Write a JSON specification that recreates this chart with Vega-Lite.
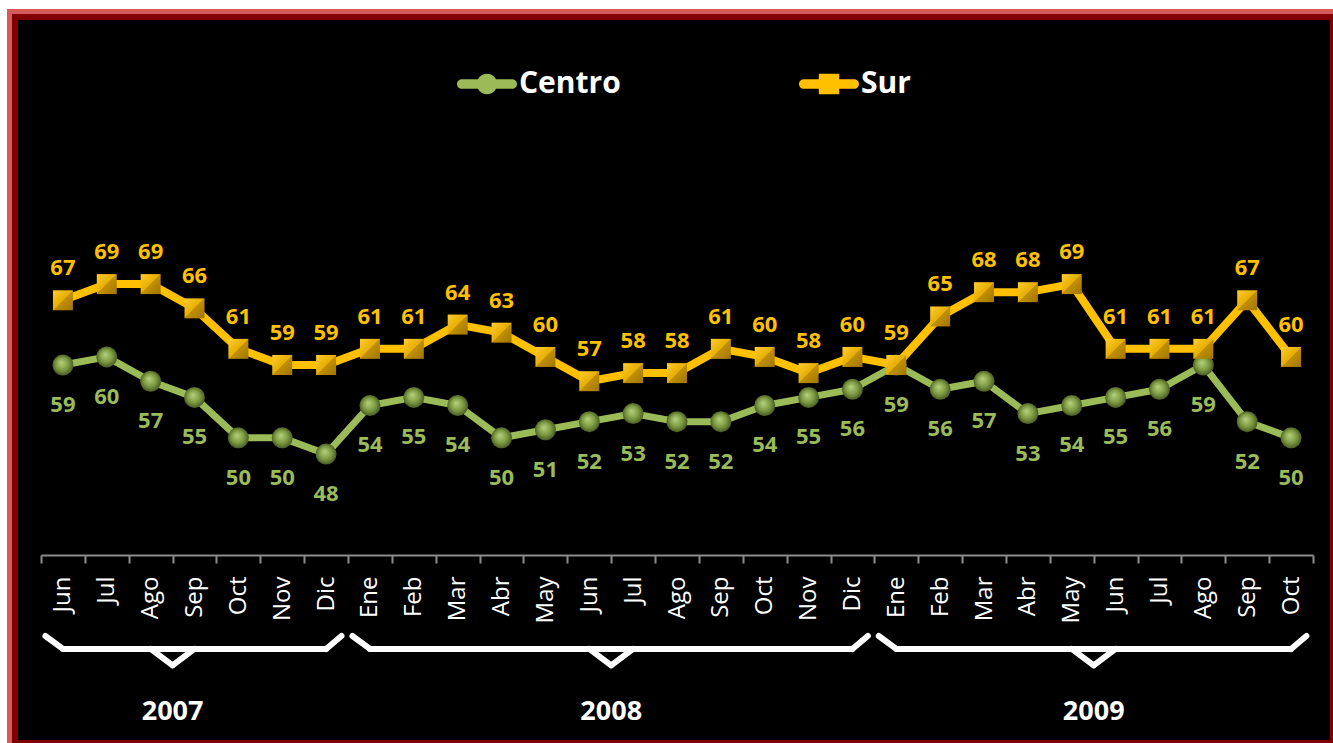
{
  "$schema": "https://vega.github.io/schema/vega-lite/v6.json",
  "width": 1318,
  "height": 726,
  "autosize": {"type": "none"},
  "padding": {"left": 15, "top": 17, "right": 0, "bottom": 0},
  "background": "white",
  "config": {
    "view": {"stroke": "#D55A5A", "strokeWidth": 16, "fill": null},
    "font": "Open Sans",
    "legend": {
      "labelColor": "white",
      "labelFont": "Open Sans",
      "labelFontWeight": "bold",
      "labelFontSize": 30,
      "labelOffset": 2,
      "symbolSize": 3600,
      "symbolStrokeWidth": 0,
      "symbolOpacity": 1,
      "direction": "horizontal",
      "columnPadding": 178,
      "labelLimit": 300
    }
  },
  "datasets": {
    "frame": [{"frame": "panel"}],
    "months": [
      {"key": "2007-Jun", "centro": 59, "sur": 67},
      {"key": "2007-Jul", "centro": 60, "sur": 69},
      {"key": "2007-Ago", "centro": 57, "sur": 69},
      {"key": "2007-Sep", "centro": 55, "sur": 66},
      {"key": "2007-Oct", "centro": 50, "sur": 61},
      {"key": "2007-Nov", "centro": 50, "sur": 59},
      {"key": "2007-Dic", "centro": 48, "sur": 59},
      {"key": "2008-Ene", "centro": 54, "sur": 61},
      {"key": "2008-Feb", "centro": 55, "sur": 61},
      {"key": "2008-Mar", "centro": 54, "sur": 64},
      {"key": "2008-Abr", "centro": 50, "sur": 63},
      {"key": "2008-May", "centro": 51, "sur": 60},
      {"key": "2008-Jun", "centro": 52, "sur": 57},
      {"key": "2008-Jul", "centro": 53, "sur": 58},
      {"key": "2008-Ago", "centro": 52, "sur": 58},
      {"key": "2008-Sep", "centro": 52, "sur": 61},
      {"key": "2008-Oct", "centro": 54, "sur": 60},
      {"key": "2008-Nov", "centro": 55, "sur": 58},
      {"key": "2008-Dic", "centro": 56, "sur": 60},
      {"key": "2009-Ene", "centro": 59, "sur": 59},
      {"key": "2009-Feb", "centro": 56, "sur": 65},
      {"key": "2009-Mar", "centro": 57, "sur": 68},
      {"key": "2009-Abr", "centro": 53, "sur": 68},
      {"key": "2009-May", "centro": 54, "sur": 69},
      {"key": "2009-Jun", "centro": 55, "sur": 61},
      {"key": "2009-Jul", "centro": 56, "sur": 61},
      {"key": "2009-Ago", "centro": 59, "sur": 61},
      {"key": "2009-Sep", "centro": 52, "sur": 67},
      {"key": "2009-Oct", "centro": 50, "sur": 60}
    ],
    "braces": [
      {"year": "2007", "first": "2007-Jun", "last": "2007-Dic", "tip": "2007-Sep", "tipPrev": "2007-Ago"},
      {"year": "2008", "first": "2008-Ene", "last": "2008-Dic", "tip": "2008-Jul", "tipPrev": "2008-Jun"},
      {"year": "2009", "first": "2009-Ene", "last": "2009-Oct", "tip": "2009-Jun", "tipPrev": "2009-May"}
    ],
    "series": [{"series": "Centro"}, {"series": "Sur"}]
  },
  "layer": [
    {
      "data": {"name": "frame"},
      "mark": {"type": "rect", "fill": "black", "stroke": "#800000", "strokeWidth": 6},
      "encoding": {}
    },
    {
      "data": {"name": "braces"},
      "mark": {"type": "rule", "color": "white", "strokeWidth": 6, "strokeCap": "round"},
      "encoding": {
        "x": {
          "field": "first", "type": "ordinal",
          "scale": {"domain": ["2007-Jun","2007-Jul","2007-Ago","2007-Sep","2007-Oct","2007-Nov","2007-Dic","2008-Ene","2008-Feb","2008-Mar","2008-Abr","2008-May","2008-Jun","2008-Jul","2008-Ago","2008-Sep","2008-Oct","2008-Nov","2008-Dic","2009-Ene","2009-Feb","2009-Mar","2009-Abr","2009-May","2009-Jun","2009-Jul","2009-Ago","2009-Sep","2009-Oct"], "range": [26, 1298], "paddingInner": 0, "paddingOuter": 0},
          "axis": {
            "title": null,
            "offset": -188,
            "zindex": 1,
            "domainColor": "#8C8C8C",
            "domainWidth": 2,
            "tickColor": "#8C8C8C",
            "tickWidth": 2,
            "tickSize": 8,
            "tickBand": "extent",
            "labelAngle": -90,
            "labelAlign": "right",
            "labelBaseline": "middle",
            "labelColor": "white",
            "labelFont": "Open Sans",
            "labelFontSize": 24,
            "labelPadding": 13,
            "labelExpr": "split(datum.value, '-')[1]"
          }
        },
        "x2": {"field": "last"},
        "y": {"datum": 23.92, "type": "quantitative", "axis": null, "scale": {"domain": [12.3, 102], "nice": false, "zero": false}}
      }
    },
    {
      "data": {"name": "braces"},
      "mark": {"type": "rule", "color": "white", "strokeWidth": 6, "strokeCap": "round"},
      "encoding": {
        "x": {"field": "first", "type": "ordinal", "bandPosition": 0.1},
        "x2": {"field": "first"},
        "y": {"datum": 25.52, "type": "quantitative", "axis": null},
        "y2": {"datum": 23.92}
      }
    },
    {
      "data": {"name": "braces"},
      "mark": {"type": "rule", "color": "white", "strokeWidth": 6, "strokeCap": "round"},
      "encoding": {
        "x": {"field": "last", "type": "ordinal", "bandPosition": 0.85},
        "x2": {"field": "last"},
        "y": {"datum": 25.52, "type": "quantitative", "axis": null},
        "y2": {"datum": 23.92}
      }
    },
    {
      "data": {"name": "braces"},
      "mark": {"type": "rule", "color": "white", "strokeWidth": 6, "strokeCap": "round"},
      "encoding": {
        "x": {"field": "tip", "type": "ordinal", "bandPosition": 0},
        "x2": {"field": "tipPrev"},
        "y": {"datum": 21.9, "type": "quantitative", "axis": null},
        "y2": {"datum": 23.92}
      }
    },
    {
      "data": {"name": "braces"},
      "mark": {"type": "rule", "color": "white", "strokeWidth": 6, "strokeCap": "round"},
      "encoding": {
        "x": {"field": "tip", "type": "ordinal", "bandPosition": 0},
        "x2": {"field": "tip"},
        "y": {"datum": 21.9, "type": "quantitative", "axis": null},
        "y2": {"datum": 23.92}
      }
    },
    {
      "data": {"name": "braces"},
      "mark": {"type": "text", "color": "white", "font": "Open Sans", "fontWeight": "bold", "fontSize": 27, "baseline": "middle", "align": "center"},
      "encoding": {
        "x": {"field": "tip", "type": "ordinal", "bandPosition": 0},
        "y": {"datum": 16.13, "type": "quantitative", "axis": null},
        "text": {"field": "year"}
      }
    },
    {
      "data": {"name": "months"},
      "mark": {"type": "line", "color": "#9BBB59", "strokeWidth": 7, "strokeJoin": "round", "strokeCap": "round"},
      "encoding": {
        "x": {"field": "key", "type": "ordinal"},
        "y": {"field": "centro", "type": "quantitative", "axis": null}
      }
    },
    {
      "data": {"name": "months"},
      "mark": {
        "type": "point", "shape": "circle", "size": 441, "filled": true, "strokeWidth": 0, "opacity": 1,
        "fill": {"gradient": "radial", "x1": 0.42, "y1": 0.38, "r1": 0, "x2": 0.5, "y2": 0.5, "r2": 0.55,
          "stops": [{"offset": 0, "color": "#B7D27E"}, {"offset": 0.55, "color": "#7D9A42"}, {"offset": 1, "color": "#3E4F1E"}]}
      },
      "encoding": {
        "x": {"field": "key", "type": "ordinal"},
        "y": {"field": "centro", "type": "quantitative", "axis": null}
      }
    },
    {
      "data": {"name": "months"},
      "mark": {"type": "line", "color": "#FFC000", "strokeWidth": 8, "strokeJoin": "round", "strokeCap": "round"},
      "encoding": {
        "x": {"field": "key", "type": "ordinal"},
        "y": {"field": "sur", "type": "quantitative", "axis": null}
      }
    },
    {
      "data": {"name": "months"},
      "mark": {
        "type": "point", "shape": "square", "size": 400, "filled": true, "strokeWidth": 0, "opacity": 1,
        "fill": {"gradient": "linear", "x1": 0, "y1": 0, "x2": 1, "y2": 1,
          "stops": [{"offset": 0, "color": "#FFCC33"}, {"offset": 0.5, "color": "#E6AE00"}, {"offset": 0.5, "color": "#C29000"}, {"offset": 1, "color": "#9E7500"}]}
      },
      "encoding": {
        "x": {"field": "key", "type": "ordinal"},
        "y": {"field": "sur", "type": "quantitative", "axis": null}
      }
    },
    {
      "data": {"name": "months"},
      "mark": {"type": "text", "color": "#9BBB59", "font": "Open Sans", "fontWeight": "bold", "fontSize": 22, "baseline": "middle", "align": "center", "dy": 40},
      "encoding": {
        "x": {"field": "key", "type": "ordinal"},
        "y": {"field": "centro", "type": "quantitative", "axis": null},
        "text": {"field": "centro", "type": "quantitative"}
      }
    },
    {
      "data": {"name": "months"},
      "mark": {"type": "text", "color": "#FFC000", "font": "Open Sans", "fontWeight": "bold", "fontSize": 22, "baseline": "middle", "align": "center", "dy": -32},
      "encoding": {
        "x": {"field": "key", "type": "ordinal"},
        "y": {"field": "sur", "type": "quantitative", "axis": null},
        "text": {"field": "sur", "type": "quantitative"}
      }
    },
    {
      "data": {"name": "series"},
      "mark": {"type": "point", "filled": true, "opacity": 0},
      "encoding": {
        "color": {
          "field": "series", "type": "nominal",
          "scale": {"domain": ["Centro", "Sur"], "range": ["#9BBB59", "#FFC000"]},
          "legend": {"title": null, "orient": "none", "legendX": 442, "legendY": 37, "direction": "horizontal", "zindex": 1}
        },
        "shape": {
          "field": "series", "type": "nominal",
          "scale": {"domain": ["Centro", "Sur"], "range": [
            "M-0.84,-0.16L0.84,-0.16A0.16,0.16 0 0,1 0.84,0.16L-0.84,0.16A0.16,0.16 0 0,1 -0.84,-0.16ZM0.34,0A0.34,0.34 0 1,1 -0.34,0A0.34,0.34 0 1,1 0.34,0Z",
            "M-0.84,-0.16L0.84,-0.16A0.16,0.16 0 0,1 0.84,0.16L-0.84,0.16A0.16,0.16 0 0,1 -0.84,-0.16ZM-0.34,-0.34L0.34,-0.34L0.34,0.34L-0.34,0.34Z"
          ]},
          "legend": {"title": null, "orient": "none", "legendX": 442, "legendY": 37, "direction": "horizontal", "zindex": 1}
        }
      }
    }
  ]
}
